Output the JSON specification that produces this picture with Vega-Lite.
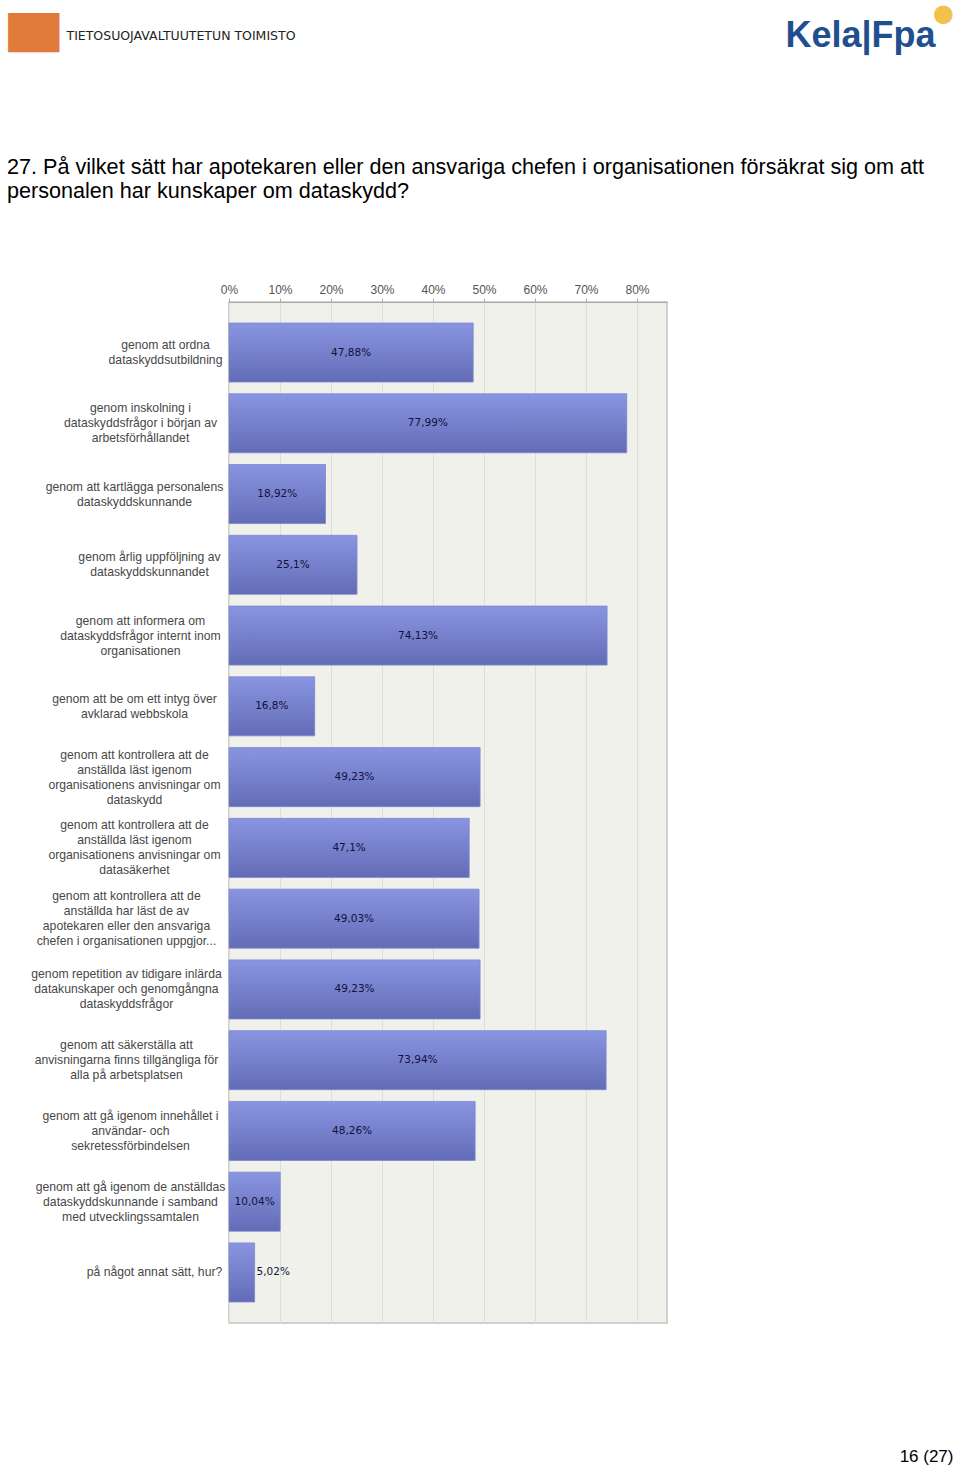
{
  "$schema": "https://vega.github.io/schema/vega-lite/v6.json",
  "width": 438,
  "height": 1021,
  "autosize": {"type": "none"},
  "padding": {"left": 229, "top": 302, "right": 293, "bottom": 146},
  "background": "white",
  "title": {
    "text": ["27. På vilket sätt har apotekaren eller den ansvariga chefen i organisationen försäkrat sig om att", "personalen har kunskaper om dataskydd?"],
    "anchor": "start",
    "frame": "group",
    "dx": -222,
    "dy": 202,
    "offset": 0,
    "font": "Liberation Sans",
    "fontSize": 21.6,
    "fontWeight": "normal",
    "color": "#000000",
    "lineHeight": 24
  },
  "data": {
    "values": [
      {"option": "genom att ordna\ndataskyddsutbildning", "share": 0.4788},
      {"option": "genom inskolning i\ndataskyddsfrågor i början av\narbetsförhållandet", "share": 0.7799},
      {"option": "genom att kartlägga personalens\ndataskyddskunnande", "share": 0.1892},
      {"option": "genom årlig uppföljning av\ndataskyddskunnandet", "share": 0.251},
      {"option": "genom att informera om\ndataskyddsfrågor internt inom\norganisationen", "share": 0.7413},
      {"option": "genom att be om ett intyg över\navklarad webbskola", "share": 0.168},
      {"option": "genom att kontrollera att de\nanställda läst igenom\norganisationens anvisningar om\ndataskydd", "share": 0.4923},
      {"option": "genom att kontrollera att de\nanställda läst igenom\norganisationens anvisningar om\ndatasäkerhet", "share": 0.471},
      {"option": "genom att kontrollera att de\nanställda har läst de av\napotekaren eller den ansvariga\nchefen i organisationen uppgjor...", "share": 0.4903},
      {"option": "genom repetition av tidigare inlärda\ndatakunskaper och genomgångna\ndataskyddsfrågor", "share": 0.4923},
      {"option": "genom att säkerställa att\nanvisningarna finns tillgängliga för\nalla på arbetsplatsen", "share": 0.7394},
      {"option": "genom att gå igenom innehållet i\nanvändar- och\nsekretessförbindelsen", "share": 0.4826},
      {"option": "genom att gå igenom de anställdas\ndataskyddskunnande i samband\nmed utvecklingssamtalen", "share": 0.1004},
      {"option": "på något annat sätt, hur?", "share": 0.0502}
    ]
  },
  "encoding": {
    "y": {
      "field": "option",
      "type": "nominal",
      "sort": null,
      "scale": {"paddingInner": 0.166, "paddingOuter": 0.297}
    }
  },
  "layer": [
    {
      "mark": {
        "type": "bar",
        "color": {
          "gradient": "linear",
          "x1": 0, "y1": 0, "x2": 0, "y2": 1,
          "stops": [
            {"offset": 0, "color": "#8a95e2"},
            {"offset": 1, "color": "#626cb6"}
          ]
        },
        "stroke": "#7d87cf",
        "strokeWidth": 0.8
      },
      "encoding": {
        "x": {
          "field": "share",
          "type": "quantitative",
          "scale": {"domain": [0, 0.8588], "nice": false, "zero": true},
          "axis": {
            "orient": "top",
            "values": [0, 0.1, 0.2, 0.3, 0.4, 0.5, 0.6, 0.7, 0.8],
            "format": ".0%",
            "labelFont": "Liberation Sans",
            "labelFontSize": 12,
            "labelColor": "#555555",
            "labelPadding": 2,
            "labelFlush": false,
            "domainColor": "#a8a8a8",
            "tickColor": "#b0b0b0",
            "tickSize": 4,
            "grid": true,
            "gridColor": "#dcdfd6",
            "title": "TIETOSUOJAVALTUUTETUN TOIMISTO",
            "titleX": -163,
            "titleY": -267,
            "titleAlign": "left",
            "titleBaseline": "middle",
            "titleAngle": 0,
            "titleFont": "DejaVu Sans",
            "titleFontSize": 12.5,
            "titleFontWeight": "normal",
            "titleColor": "#222222"
          }
        },
        "y": {
          "field": "option",
          "type": "nominal",
          "sort": null,
          "axis": {
            "title": null,
            "domain": false,
            "ticks": false,
            "labelAlign": "center",
            "labelBaseline": "middle",
            "labelPadding": {
              "condition": [
                {"test": "max(length(split(datum.label, '\\n')[0] || ''), length(split(datum.label, '\\n')[1] || ''), length(split(datum.label, '\\n')[2] || ''), length(split(datum.label, '\\n')[3] || '')) <= 20", "value": 64},
                {"test": "max(length(split(datum.label, '\\n')[0] || ''), length(split(datum.label, '\\n')[1] || ''), length(split(datum.label, '\\n')[2] || ''), length(split(datum.label, '\\n')[3] || '')) <= 25", "value": 75},
                {"test": "max(length(split(datum.label, '\\n')[0] || ''), length(split(datum.label, '\\n')[1] || ''), length(split(datum.label, '\\n')[2] || ''), length(split(datum.label, '\\n')[3] || '')) <= 26", "value": 80},
                {"test": "max(length(split(datum.label, '\\n')[0] || ''), length(split(datum.label, '\\n')[1] || ''), length(split(datum.label, '\\n')[2] || ''), length(split(datum.label, '\\n')[3] || '')) <= 29", "value": 89},
                {"test": "max(length(split(datum.label, '\\n')[0] || ''), length(split(datum.label, '\\n')[1] || ''), length(split(datum.label, '\\n')[2] || ''), length(split(datum.label, '\\n')[3] || '')) <= 31", "value": 95},
                {"test": "max(length(split(datum.label, '\\n')[0] || ''), length(split(datum.label, '\\n')[1] || ''), length(split(datum.label, '\\n')[2] || ''), length(split(datum.label, '\\n')[3] || '')) <= 33", "value": 99}
              ],
              "value": 103
            },
            "labelLimit": 0,
            "labelFont": "Liberation Sans",
            "labelFontSize": 12.2,
            "labelLineHeight": 15,
            "labelColor": "#474747",
            "labelOffset": {
              "condition": [
                {"test": "length(split(datum.label, '\\n')) == 2", "value": -7.5},
                {"test": "length(split(datum.label, '\\n')) == 3", "value": -15},
                {"test": "length(split(datum.label, '\\n')) == 4", "value": -22.5}
              ],
              "value": 0
            },
            "labelExpr": "split(datum.label, '\\n')"
          }
        }
      }
    },
    {
      "transform": [{"filter": "datum.share >= 0.08"}],
      "mark": {
        "type": "text",
        "font": "DejaVu Sans",
        "fontSize": 10.5,
        "color": "#12123c",
        "align": "center",
        "baseline": "middle"
      },
      "encoding": {
        "x": {
          "field": "share",
          "type": "quantitative",
          "scale": {"domain": [0, 1.7176], "nice": false, "zero": true},
          "axis": {
            "orient": "bottom",
            "labels": false,
            "ticks": false,
            "domain": false,
            "grid": false,
            "title": "16 (27)",
            "titleX": 724,
            "titleY": 133,
            "titleAlign": "right",
            "titleBaseline": "middle",
            "titleAngle": 0,
            "titleFont": "Liberation Sans",
            "titleFontSize": 17,
            "titleFontWeight": "normal",
            "titleColor": "#000000"
          }
        },
        "text": {"field": "share", "type": "quantitative", "format": ".2~%"},
        "y": {
          "field": "option",
          "type": "nominal",
          "sort": null,
          "axis": {
            "orient": "right",
            "labels": false,
            "ticks": false,
            "domain": false,
            "grid": false,
            "title": "Kela|Fpa",
            "titleX": 118,
            "titleY": -267,
            "titleAlign": "left",
            "titleBaseline": "middle",
            "titleAngle": 0,
            "titleFont": "Liberation Sans",
            "titleFontSize": 36,
            "titleFontWeight": "bold",
            "titleColor": "#1f4f8f"
          }
        }
      }
    },
    {
      "transform": [{"filter": "datum.share < 0.08"}],
      "mark": {
        "type": "text",
        "font": "DejaVu Sans",
        "fontSize": 10.5,
        "color": "#12123c",
        "align": "left",
        "baseline": "middle",
        "dx": 2
      },
      "encoding": {
        "x": {
          "field": "share",
          "type": "quantitative",
          "scale": {"domain": [0, 0.8588], "nice": false, "zero": true},
          "axis": {
            "orient": "top",
            "labels": false,
            "ticks": false,
            "domain": false,
            "grid": false,
            "title": "●",
            "titleX": 714,
            "titleY": -289,
            "titleAlign": "center",
            "titleBaseline": "middle",
            "titleAngle": 0,
            "titleFont": "DejaVu Sans",
            "titleFontSize": 24,
            "titleFontWeight": "normal",
            "titleColor": "#f2c14a"
          }
        },
        "text": {"field": "share", "type": "quantitative", "format": ".2~%"},
        "y": {
          "field": "option",
          "type": "nominal",
          "sort": null,
          "axis": {
            "orient": "left",
            "labels": false,
            "ticks": false,
            "domain": false,
            "grid": false,
            "title": "██",
            "titleX": -196,
            "titleY": -269,
            "titleAlign": "center",
            "titleBaseline": "middle",
            "titleAngle": 0,
            "titleFont": "DejaVu Sans",
            "titleFontSize": 33,
            "titleFontWeight": "normal",
            "titleColor": "#e07b3c"
          }
        }
      }
    }
  ],
  "resolve": {
    "scale": {"x": "independent"},
    "axis": {"x": "independent", "y": "independent"}
  },
  "config": {
    "locale": {
      "number": {"decimal": ",", "thousands": " ", "grouping": [3], "currency": ["", " €"]}
    },
    "view": {"fill": "#eff1ea", "stroke": "#c4c4c4", "strokeWidth": 1.5}
  }
}
